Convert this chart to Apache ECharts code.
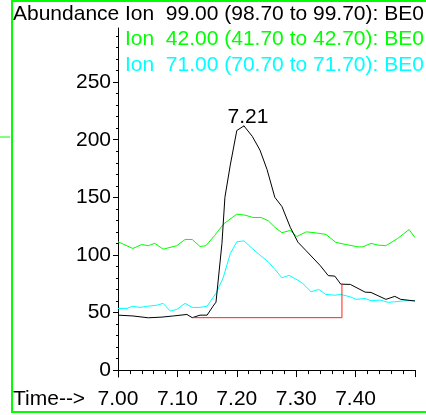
<!DOCTYPE html>
<html>
<head>
<meta charset="utf-8">
<script src="https://cdn.jsdelivr.net/npm/echarts@6/dist/echarts.min.js"></script>
<style>
html,body{margin:0;padding:0;background:#fff;}
#c{width:426px;height:415px;}
</style>
</head>
<body>
<div id="c"></div>
<script>
// ---- data ----
var legendLines = [
  'Ion  99.00 (98.70 to 99.70): BE0',
  'Ion  42.00 (41.70 to 42.70): BE0',
  'Ion  71.00 (70.70 to 71.70): BE0'
];
var yTickValues = [0, 50, 100, 150, 200, 250];
var yMinorValues = [0,10,20,30,40,50,60,70,80,90,100,110,120,130,140,150,160,170,180,190,200,210,220,230,240,250,260,270,280,290];

var ion99Times = [7.000,7.025,7.051,7.074,7.093,7.116,7.125,7.138,7.150,7.160,7.165,7.175,7.180,7.189,7.200,7.212,7.226,7.239,7.251,7.264,7.276,7.290,7.303,7.316,7.340,7.354,7.365,7.375,7.391,7.416,7.426,7.451,7.466,7.476,7.500];
var ion99Values = [47.7,47.0,45.4,46.0,47.0,48.3,45.5,47.7,47.7,55.5,59,110,150,178,208,212,203,191,174,150,142,124,111,104,91,82,81.6,74.6,74.4,67.7,67.4,61.4,64,61.4,60];

var ion42Times = [7.000,7.025,7.040,7.051,7.062,7.076,7.099,7.113,7.125,7.138,7.148,7.163,7.178,7.200,7.214,7.227,7.241,7.253,7.264,7.276,7.290,7.301,7.317,7.332,7.350,7.367,7.384,7.404,7.412,7.426,7.438,7.451,7.471,7.490,7.500];
var ion42Values = [111.4,105.6,109,108,110,105,108,113.4,113.4,107.3,108,117,127,135.4,134.5,132.5,132.5,129.6,124,119.3,121.2,116,120,119.2,117.8,110.8,109,107,107,110,108.5,108,114.3,122,115];

var ion71Times = [7.000,7.015,7.025,7.037,7.051,7.066,7.076,7.088,7.099,7.113,7.125,7.138,7.150,7.160,7.165,7.177,7.189,7.200,7.212,7.226,7.239,7.253,7.264,7.276,7.288,7.303,7.311,7.325,7.338,7.350,7.365,7.375,7.391,7.401,7.416,7.426,7.441,7.455,7.466,7.483,7.500];
var ion71Values = [53.5,53.5,55.5,54.4,55.5,56.4,57.9,51.2,52.7,57.9,54.4,54.4,55.5,63,66.6,80,101,111.4,112.2,105.6,99.8,94,87.5,80.2,82.2,78,75.2,68,70,65.7,65,65.7,63.6,61.4,62.2,60.2,60.8,58.8,59.3,60.2,60.2];

var baselineTimes = [7.126, 7.377, 7.377];
var baselineValues = [45.5, 45.5, 75];

var peakIndex = 15; // apex of ion 99 trace

function pairs(t, v) { return t.map(function (x, i) { return [x, v[i]]; }); }

var FONT = 'Liberation Sans';
var FS = 21;

var chart = echarts.init(document.getElementById('c'), null, { renderer: 'canvas' });
chart.setOption({
  animation: false,
  backgroundColor: '#fff',
  grid: { left: 118, right: 11, top: 28, bottom: 38, containLabel: false },
  xAxis: {
    type: 'value', min: 7.0, max: 7.5, interval: 0.1,
    axisLine: { show: true, lineStyle: { color: '#000', width: 1 } },
    axisTick: { show: true, length: 7, lineStyle: { color: '#000' } },
    minorTick: { show: true, splitNumber: 5, length: 4, lineStyle: { color: '#000' } },
    splitLine: { show: false },
    axisLabel: {
      margin: 12, color: '#000', fontSize: FS, fontFamily: FONT,
      showMaxLabel: false,
      formatter: function (v) { return v >= 7.45 ? '' : v.toFixed(2); }
    }
  },
  yAxis: [{
    type: 'value', min: -6, max: 297,
    axisLine: { show: true, lineStyle: { color: '#000', width: 1 } },
    axisTick: { show: true, length: 5, customValues: yTickValues, lineStyle: { color: '#000' } },
    splitLine: { show: false },
    axisLabel: { margin: 7, color: '#000', fontSize: FS, fontFamily: FONT, customValues: yTickValues }
  }, {
    type: 'value', min: -6, max: 297, position: 'left',
    axisLine: { show: false },
    axisTick: { show: true, length: 2, customValues: yMinorValues, lineStyle: { color: '#000' } },
    splitLine: { show: false },
    axisLabel: { show: false }
  }],
  graphic: [
    { type: 'polyline', silent: true, shape: { points: [[428, 1], [12, 1], [12, 412], [428, 412]] }, style: { stroke: '#00ff00', lineWidth: 2, fill: null } },
    { type: 'line', silent: true, shape: { x1: 0, y1: 137, x2: 10, y2: 137 }, style: { stroke: '#00ff00', lineWidth: 1 } },
    { type: 'text', left: 13, top: 4, style: { text: 'Abundance', fill: '#000', font: FS + 'px "Liberation Sans"' } },
    { type: 'text', left: 13, top: 389, style: { text: 'Time-->', fill: '#000', font: FS + 'px "Liberation Sans"' } },
    { type: 'text', x: 125, y: 4, style: { text: legendLines[0], fill: '#000', font: FS + 'px "Liberation Sans"' } },
    { type: 'text', x: 125, y: 29, style: { text: legendLines[1], fill: '#00ff00', font: FS + 'px "Liberation Sans"' } },
    { type: 'text', x: 125, y: 55, style: { text: legendLines[2], fill: '#00ffff', font: FS + 'px "Liberation Sans"' } }
  ],
  series: [
    { type: 'line', name: 'Ion 42', data: pairs(ion42Times, ion42Values), symbol: 'none', lineStyle: { color: '#00ff00', width: 1 }, z: 2 },
    { type: 'line', name: 'Ion 71', data: pairs(ion71Times, ion71Values), symbol: 'none', lineStyle: { color: '#00ffff', width: 1 }, z: 2 },
    { type: 'line', name: 'Ion 99', data: pairs(ion99Times, ion99Values), symbol: 'none', lineStyle: { color: '#000', width: 1 }, z: 3 },
    { type: 'line', name: 'baseline', data: pairs(baselineTimes, baselineValues), symbol: 'none', lineStyle: { color: '#ff2020', width: 1 }, z: 4 },
    {
      type: 'scatter', name: 'peak', data: [[ion99Times[peakIndex], ion99Values[peakIndex]]],
      symbol: 'circle', symbolSize: 1, itemStyle: { color: '#000', opacity: 1 }, z: 5,
      label: {
        show: true, position: 'top', distance: 0, offset: [4, 2], opacity: 1,
        textBorderWidth: 0, textBorderColor: 'transparent',
        formatter: function (p) { return p.value[0].toFixed(2); },
        color: '#000', fontSize: FS, fontFamily: FONT
      }
    }
  ]
});
</script>
</body>
</html>
